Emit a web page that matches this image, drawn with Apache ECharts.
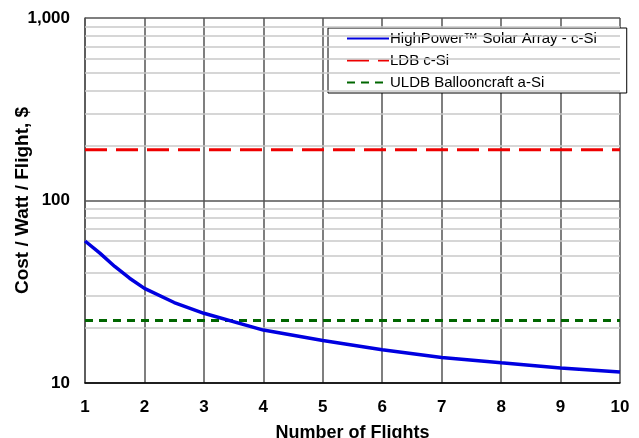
<!DOCTYPE html>
<html>
<head>
<meta charset="utf-8">
<script src="https://cdn.jsdelivr.net/npm/echarts@6/dist/echarts.min.js"></script>
<style>html,body{margin:0;padding:0;background:#fff;}#c{width:639px;height:438px;}</style>
</head>
<body>
<div id="c"></div>
<script>
const flights = [1, 1.25, 1.5, 1.75, 2, 2.5, 3, 4, 5, 6, 7, 8, 9, 10];
const highPower = [60, 51.5, 43.5, 37.5, 33, 27.6, 24.1, 19.5, 17.1, 15.2, 13.8, 12.9, 12.1, 11.5];
const ldbValue = 190;
const uldbValue = 22;
const minorGrid = [20, 30, 40, 50, 60, 70, 80, 90, 200, 300, 400, 500, 600, 700, 800, 900];
const seriesNames = ['HighPower\u2122 Solar Array - c-Si', 'LDB c-Si', 'ULDB Ballooncraft a-Si'];
const xTicks = [1, 2, 3, 4, 5, 6, 7, 8, 9, 10];

const chart = echarts.init(document.getElementById('c'));
const font = 'Liberation Sans, Arial, sans-serif';
chart.setOption({
  animation: false,
  grid: {left: 85, right: 19, top: 18, bottom: 55, containLabel: false, outerBoundsMode: 'none'},
  xAxis: {
    type: 'value', min: xTicks[0], max: xTicks[xTicks.length - 1], interval: 1,
    name: 'Number of Flights', nameLocation: 'middle', nameGap: 41, nameMoveOverlap: false,
    nameTextStyle: {fontFamily: font, fontWeight: 'bold', fontSize: 18, color: '#000'},
    axisLine: {show: true, lineStyle: {color: '#000', width: 1.5}},
    axisTick: {show: false},
    axisLabel: {fontFamily: font, fontWeight: 'bold', fontSize: 17, color: '#000', margin: 16},
    splitLine: {show: true, lineStyle: {color: '#555', width: 1.5}}
  },
  yAxis: {
    type: 'log', logBase: 10, min: 10, max: 1000,
    name: 'Cost / Watt / Flight, $', nameLocation: 'middle', nameGap: 53, nameMoveOverlap: false,
    nameTextStyle: {fontFamily: font, fontWeight: 'bold', fontSize: 19, color: '#000'},
    axisLine: {show: true, lineStyle: {color: '#555', width: 1.5}},
    axisTick: {show: false},
    axisLabel: {fontFamily: font, fontWeight: 'bold', fontSize: 17, color: '#000', margin: 15,
      formatter: v => Math.round(v).toLocaleString('en-US')},
    splitLine: {show: true, lineStyle: {color: '#555', width: 1.5}}
  },
  legend: {
    left: 328, top: 28, orient: 'vertical',
    padding: [3, 30, 3, 18],
    backgroundColor: '#fff', borderColor: '#000', borderWidth: 1,
    itemWidth: 42, itemHeight: 12, itemGap: 7,
    itemStyle: {opacity: 0},
    textStyle: {fontFamily: font, fontSize: 15, color: '#000', padding: [0, 0, 0, -4]},
    data: seriesNames
  },
  series: [
    {
      type: 'line', name: '_minor', data: [], silent: true, z: 1,
      markLine: {silent: true, symbol: 'none', label: {show: false},
        lineStyle: {color: '#c8c8c8', width: 1.5, type: 'solid'},
        data: minorGrid.map(v => ({yAxis: v}))}
    },
    {
      type: 'line', name: seriesNames[0], z: 5,
      data: flights.map((x, i) => [x, highPower[i]]),
      symbol: 'none', smooth: false,
      lineStyle: {color: '#0000e0', width: 3.5}, itemStyle: {color: '#0000e0'}
    },
    {
      type: 'line', name: seriesNames[1], z: 4,
      data: xTicks.map(x => [x, ldbValue]), symbol: 'none',
      lineStyle: {color: '#ee0000', width: 3, type: [22, 9]}, itemStyle: {color: '#ee0000'}
    },
    {
      type: 'line', name: seriesNames[2], z: 4,
      data: xTicks.map(x => [x, uldbValue]), symbol: 'none',
      lineStyle: {color: '#006600', width: 3, type: [8, 6]}, itemStyle: {color: '#006600'}
    }
  ]
});
</script>
</body>
</html>
